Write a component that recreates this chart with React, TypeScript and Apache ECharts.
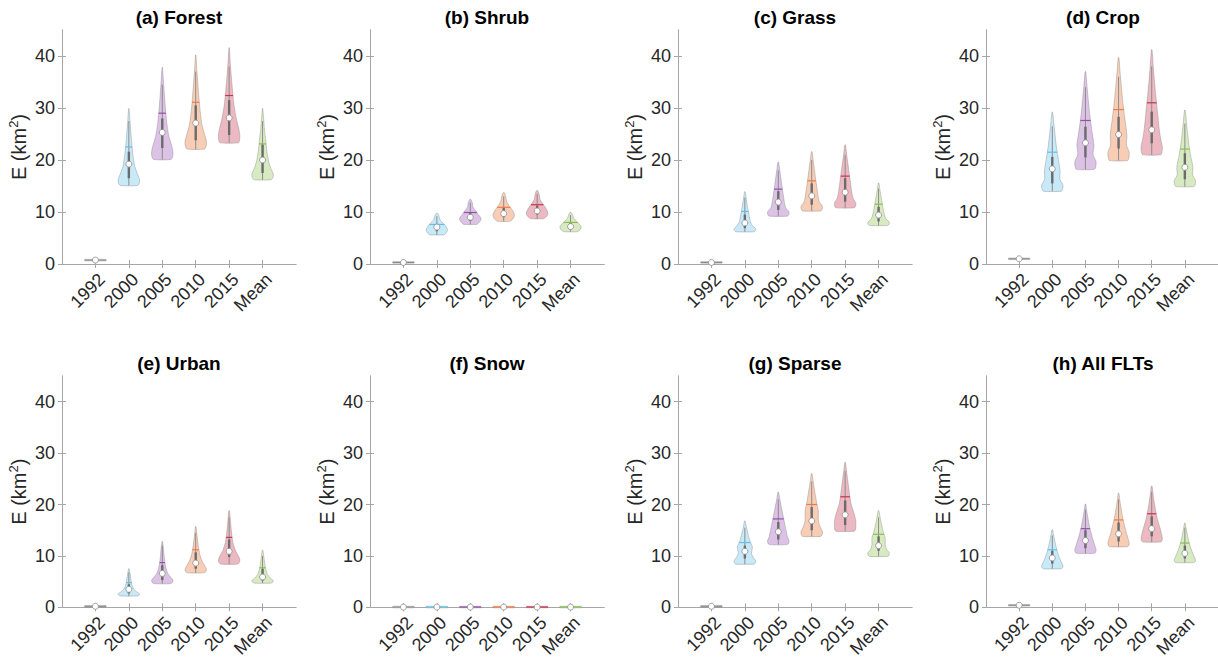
import React, { useEffect, useRef } from "react";
import * as echarts from "echarts";

const categories = ["1992", "2000", "2005", "2010", "2015", "Mean"];
const panelTitles = ["(a) Forest", "(b) Shrub", "(c) Grass", "(d) Crop", "(e) Urban", "(f) Snow", "(g) Sparse", "(h) All FLTs"];
const yTicks = [0, 10, 20, 30, 40];

// relative positions (0 = min, 1 = max) at which the violin half-widths are given
const T = [0, 0.03, 0.08, 0.15, 0.25, 0.4, 0.55, 0.7, 0.85, 1];

// each row: [min, max, q1, q3, median, mean, upperWhisker]
const forestStats = [
  [0.6, 0.9, 0.7, 0.8, 0.75, 0.75, 0.9],
  [15.1, 29.9, 16.5, 21.6, 19.2, 22.5, 27.5],
  [20.1, 37.8, 22.3, 28.0, 25.3, 29.0, 34.5],
  [22.1, 40.2, 23.8, 30.5, 27.1, 31.1, 37.0],
  [23.3, 41.6, 24.8, 31.5, 28.1, 32.4, 38.0],
  [16.2, 29.9, 17.5, 23.0, 20.0, 23.1, 27.5],
];
const shrubStats = [
  [0.15, 0.45, 0.25, 0.35, 0.3, 0.3, 0.45],
  [5.6, 9.7, 6.3, 7.6, 7.1, 7.6, 9.2],
  [7.6, 12.4, 8.3, 9.8, 9.0, 9.9, 11.8],
  [8.2, 13.7, 9.0, 10.8, 9.7, 10.9, 13.0],
  [8.7, 14.1, 9.5, 11.2, 10.2, 11.4, 13.5],
  [6.2, 9.9, 6.8, 7.9, 7.2, 8.0, 9.4],
];
const grassStats = [
  [0.15, 0.45, 0.25, 0.35, 0.3, 0.3, 0.45],
  [6.2, 13.9, 6.9, 9.5, 7.9, 10.1, 12.8],
  [9.2, 19.6, 10.4, 14.0, 11.9, 14.4, 18.0],
  [10.2, 21.6, 11.4, 15.5, 13.1, 16.0, 20.0],
  [10.8, 22.9, 12.0, 16.5, 13.8, 16.9, 21.0],
  [7.4, 15.6, 8.2, 11.0, 9.4, 11.5, 14.5],
];
const cropStats = [
  [0.85, 1.15, 0.95, 1.05, 1.0, 1.0, 1.15],
  [14.0, 29.2, 15.5, 20.6, 18.3, 21.5, 26.5],
  [18.2, 37.0, 20.5, 26.4, 23.3, 27.6, 34.0],
  [19.9, 39.7, 22.2, 28.3, 24.9, 29.7, 36.0],
  [21.0, 41.2, 23.2, 29.3, 25.8, 31.0, 38.0],
  [14.9, 29.6, 16.3, 21.3, 18.6, 22.1, 27.0],
];
const urbanStats = [
  [0.05, 0.35, 0.15, 0.25, 0.2, 0.2, 0.35],
  [2.2, 7.5, 2.7, 4.5, 3.5, 4.8, 6.8],
  [4.6, 12.8, 5.3, 8.2, 6.6, 8.7, 12.0],
  [6.7, 15.7, 7.5, 10.7, 8.6, 11.2, 14.5],
  [8.4, 18.8, 9.8, 13.2, 10.9, 13.6, 17.5],
  [4.7, 11.1, 5.2, 7.5, 5.9, 7.7, 10.0],
];
const snowStats = [
  [-0.1, 0.2, 0.0, 0.1, 0.05, 0.05, 0.2],
  [-0.1, 0.2, 0.0, 0.1, 0.05, 0.05, 0.2],
  [-0.1, 0.2, 0.0, 0.1, 0.05, 0.05, 0.2],
  [-0.1, 0.2, 0.0, 0.1, 0.05, 0.05, 0.2],
  [-0.1, 0.2, 0.0, 0.1, 0.05, 0.05, 0.2],
  [-0.1, 0.2, 0.0, 0.1, 0.05, 0.05, 0.2],
];
const sparseStats = [
  [0.05, 0.35, 0.15, 0.25, 0.2, 0.2, 0.35],
  [8.4, 16.8, 9.5, 12.0, 10.9, 12.6, 15.5],
  [12.2, 22.4, 13.2, 16.6, 14.7, 17.2, 21.0],
  [13.8, 26.0, 15.0, 19.5, 16.8, 20.0, 24.5],
  [14.8, 28.2, 16.0, 20.8, 18.0, 21.5, 26.5],
  [9.9, 18.8, 11.0, 13.8, 12.0, 14.2, 17.5],
];
const allStats = [
  [0.25, 0.55, 0.35, 0.45, 0.4, 0.4, 0.55],
  [7.5, 15.1, 8.5, 11.0, 9.6, 11.2, 14.0],
  [10.5, 20.1, 11.5, 15.0, 13.0, 15.3, 19.0],
  [11.8, 22.2, 12.8, 16.5, 14.3, 17.0, 21.0],
  [12.7, 23.6, 13.8, 17.7, 15.3, 18.2, 22.5],
  [8.7, 16.4, 9.5, 12.0, 10.5, 12.5, 15.5],
];

// normalised half-widths of each violin at the positions in T
const flat = [1, 1, 1, 1, 1, 1, 1, 1, 1, 1];
const forestShapes = [
  flat,
  [0.8, 0.97, 1.0, 0.8, 0.55, 0.38, 0.27, 0.18, 0.1, 0.02],
  [0.8, 0.97, 1.0, 0.88, 0.62, 0.42, 0.3, 0.2, 0.11, 0.02],
  [0.8, 0.97, 1.0, 0.85, 0.6, 0.42, 0.3, 0.2, 0.1, 0.02],
  [0.85, 0.98, 1.0, 0.9, 0.68, 0.45, 0.32, 0.2, 0.1, 0.02],
  [0.8, 0.97, 1.0, 0.8, 0.58, 0.4, 0.3, 0.18, 0.1, 0.02],
];
const shrubShapes = [
  flat,
  [0.65, 0.75, 0.85, 0.95, 1.0, 0.85, 0.6, 0.3, 0.22, 0.08],
  [0.6, 0.7, 0.82, 0.95, 1.0, 0.75, 0.5, 0.25, 0.2, 0.06],
  [0.6, 0.7, 0.85, 0.97, 1.0, 0.8, 0.5, 0.28, 0.2, 0.06],
  [0.6, 0.72, 0.88, 1.0, 0.98, 0.78, 0.48, 0.26, 0.2, 0.06],
  [0.6, 0.72, 0.85, 0.95, 1.0, 0.82, 0.55, 0.3, 0.2, 0.06],
];
const grassShapes = [
  flat,
  [0.85, 0.98, 1.0, 0.72, 0.52, 0.4, 0.3, 0.2, 0.12, 0.03],
  [0.85, 0.98, 1.0, 0.7, 0.58, 0.46, 0.35, 0.25, 0.14, 0.03],
  [0.85, 0.98, 1.0, 0.72, 0.6, 0.48, 0.36, 0.25, 0.14, 0.03],
  [0.85, 0.98, 1.0, 0.75, 0.62, 0.5, 0.38, 0.26, 0.14, 0.03],
  [0.85, 0.98, 1.0, 0.7, 0.55, 0.42, 0.32, 0.22, 0.12, 0.03],
];
const cropShapes = [
  flat,
  [0.85, 0.98, 1.0, 0.72, 0.74, 0.58, 0.4, 0.27, 0.15, 0.03],
  [0.85, 0.98, 1.0, 0.72, 0.8, 0.6, 0.42, 0.28, 0.15, 0.03],
  [0.85, 0.98, 1.0, 0.75, 0.78, 0.6, 0.42, 0.28, 0.15, 0.03],
  [0.85, 0.98, 1.0, 0.85, 0.7, 0.55, 0.4, 0.26, 0.14, 0.03],
  [0.85, 0.98, 1.0, 0.72, 0.76, 0.55, 0.38, 0.25, 0.14, 0.03],
];
const urbanShapes = [
  flat,
  [0.75, 0.95, 1.0, 0.75, 0.45, 0.3, 0.22, 0.16, 0.1, 0.03],
  [0.75, 0.95, 1.0, 0.8, 0.5, 0.32, 0.22, 0.16, 0.1, 0.03],
  [0.75, 0.95, 1.0, 0.85, 0.6, 0.38, 0.26, 0.18, 0.1, 0.03],
  [0.75, 0.95, 1.0, 0.88, 0.6, 0.36, 0.25, 0.17, 0.1, 0.03],
  [0.75, 0.95, 1.0, 0.75, 0.48, 0.32, 0.22, 0.16, 0.1, 0.03],
];
const snowShapes = [flat, flat, flat, flat, flat, flat];
const sparseShapes = [
  flat,
  [0.85, 0.98, 1.0, 0.8, 0.62, 0.7, 0.45, 0.3, 0.15, 0.03],
  [0.85, 0.98, 1.0, 0.85, 0.75, 0.6, 0.45, 0.3, 0.16, 0.03],
  [0.85, 0.98, 1.0, 0.8, 0.62, 0.62, 0.45, 0.3, 0.16, 0.03],
  [0.85, 0.98, 1.0, 1.0, 0.85, 0.55, 0.4, 0.28, 0.15, 0.03],
  [0.85, 0.98, 1.0, 0.75, 0.62, 0.62, 0.42, 0.28, 0.15, 0.03],
];
const allShapes = [
  flat,
  [0.85, 0.98, 1.0, 0.88, 0.72, 0.52, 0.37, 0.24, 0.13, 0.03],
  [0.85, 0.98, 1.0, 0.9, 0.75, 0.55, 0.38, 0.25, 0.13, 0.03],
  [0.85, 0.98, 1.0, 0.9, 0.75, 0.55, 0.38, 0.25, 0.13, 0.03],
  [0.85, 0.98, 1.0, 0.92, 0.78, 0.55, 0.38, 0.25, 0.13, 0.03],
  [0.85, 0.98, 1.0, 0.88, 0.72, 0.52, 0.36, 0.24, 0.13, 0.03],
];

const panelStats = [forestStats, shrubStats, grassStats, cropStats, urbanStats, snowStats, sparseStats, allStats];
const panelShapes = [forestShapes, shrubShapes, grassShapes, cropShapes, urbanShapes, snowShapes, sparseShapes, allShapes];

const fillColors = ["#f4f4f4", "#c8e9f8", "#dcc2e5", "#f7cdb6", "#ecb9c2", "#d8eac2"];
const meanColors = ["#8a8a8a", "#5fc0ec", "#934fab", "#f07a42", "#c8324c", "#86c04e"];

const FONT = '"Liberation Sans", Arial, sans-serif';
const HALF = 0.32;
const gridLefts = [62, 370, 678, 986];
const gridTops = [30, 376];
const GW = 234;
const GH = 234;

function widthAt(shape: number[], t: number) {
  for (let k = 0; k < T.length - 1; k++) {
    if (t >= T[k] && t <= T[k + 1]) {
      const f = (t - T[k]) / (T[k + 1] - T[k]);
      return shape[k] + f * (shape[k + 1] - shape[k]);
    }
  }
  return 0;
}

export default function App() {
  const ref = useRef<HTMLDivElement>(null);
  useEffect(() => {
    if (!ref.current) return;
    const chart = echarts.init(ref.current, null, { renderer: "svg" });
    const grids: any[] = [];
    const xAxes: any[] = [];
    const yAxes: any[] = [];
    const series: any[] = [];
    const graphics: any[] = [];
    const ticks = [1, 2, 3, 4, 5, 6];
    const axisColor = "#a6a6a6";
    for (let p = 0; p < 8; p++) {
      const left = gridLefts[p % 4];
      const top = gridTops[Math.floor(p / 4)];
      grids.push({ left, top, width: GW, height: GH, show: false });
      xAxes.push({
        type: "value", gridIndex: p, min: 0, max: 7, position: "bottom",
        axisLine: { show: true, lineStyle: { color: axisColor } },
        axisTick: { show: true, inside: true, length: 4, customValues: ticks, lineStyle: { color: axisColor } },
        axisLabel: {
          customValues: ticks, rotate: 45, margin: 6, fontSize: 18, color: "#262626", fontFamily: FONT,
          verticalAlign: "top",
          formatter: (v: number) => categories[Math.round(v) - 1] ?? "",
        },
        splitLine: { show: false },
      });
      yAxes.push({
        type: "value", gridIndex: p, min: 0, max: 45, interval: 10, position: "left",
        axisLine: { show: true, lineStyle: { color: axisColor } },
        axisTick: { show: true, inside: true, length: 4, customValues: yTicks, lineStyle: { color: axisColor } },
        axisLabel: { customValues: yTicks, fontSize: 18, color: "#262626", fontFamily: FONT, margin: 7 },
        splitLine: { show: false },
        name: "E (km{sup|2})", nameLocation: "middle", nameGap: 23, nameRotate: 90,
        nameTextStyle: {
          fontSize: 20, color: "#262626", fontFamily: FONT, lineHeight: 24,
          rich: { sup: { fontSize: 13, fontFamily: FONT, color: "#262626", verticalAlign: "top", lineHeight: 24, padding: [0, 0, 9, 0] } },
        },
      });
    }
    for (let p = 0; p < 8; p++) {
      xAxes.push({
        type: "value", gridIndex: p, min: 0, max: 7, position: "top",
        axisLine: { show: true, lineStyle: { color: axisColor } },
        axisTick: { show: true, inside: true, length: 4, customValues: ticks, lineStyle: { color: axisColor } },
        axisLabel: { show: false }, splitLine: { show: false },
      });
      yAxes.push({
        type: "value", gridIndex: p, min: 0, max: 45, interval: 10, position: "right",
        axisLine: { show: true, lineStyle: { color: axisColor } },
        axisTick: { show: true, inside: true, length: 4, customValues: yTicks, lineStyle: { color: axisColor } },
        axisLabel: { show: false }, splitLine: { show: false },
      });
    }
    for (let p = 0; p < 8; p++) {
      const stats = panelStats[p];
      const shapes = panelShapes[p];
      series.push({
        type: "custom",
        xAxisIndex: p,
        yAxisIndex: p,
        data: stats.map((s, i) => [i + 1, s[5]]),
        encode: { x: 0, y: 1 },
        renderItem: (params: any, api: any) => {
          const i = params.dataIndex;
          const [mn, mx, q1, q3, med, mean, wHi] = stats[i];
          const shape = shapes[i];
          const x = i + 1;
          const right: number[][] = [];
          const leftPts: number[][] = [];
          for (let k = 0; k < T.length; k++) {
            const y = mn + T[k] * (mx - mn);
            const w = shape[k] * HALF;
            right.push(api.coord([x + w, y]));
            leftPts.push(api.coord([x - w, y]));
          }
          const pts = right.concat(leftPts.reverse());
          const tm = (mean - mn) / (mx - mn);
          const wm = widthAt(shape, Math.max(0, Math.min(1, tm))) * HALF;
          const pm1 = api.coord([x - wm, mean]);
          const pm2 = api.coord([x + wm, mean]);
          const pLo = api.coord([x, mn]);
          const pHi = api.coord([x, wHi]);
          const pq1 = api.coord([x, q1]);
          const pq3 = api.coord([x, q3]);
          const pmed = api.coord([x, med]);
          const children: any[] = [
            {
              type: "polygon",
              shape: { points: pts, smooth: 0.25 },
              style: { fill: fillColors[i], stroke: "rgba(120,120,120,0.45)", lineWidth: 0.8 },
            },
            {
              type: "line",
              shape: { x1: pLo[0], y1: pLo[1], x2: pHi[0], y2: pHi[1] },
              style: { stroke: "#8c8c8c", lineWidth: 1 },
            },
            {
              type: "line",
              shape: { x1: pq1[0], y1: pq1[1], x2: pq3[0], y2: pq3[1] },
              style: { stroke: "#6b6b6b", lineWidth: 2.4 },
            },
            {
              type: "line",
              shape: { x1: pm1[0], y1: pm1[1], x2: pm2[0], y2: pm2[1] },
              style: { stroke: meanColors[i], lineWidth: 1.2 },
            },
            {
              type: "circle",
              shape: { cx: pmed[0], cy: pmed[1], r: 3 },
              style: { fill: "#ffffff", stroke: "#8c8c8c", lineWidth: 0.8 },
            },
          ];
          return { type: "group", children };
        },
      });
      const left = gridLefts[p % 4];
      const top = gridTops[Math.floor(p / 4)];
      graphics.push({
        type: "text",
        x: left + GW / 2,
        y: top - 13,
        style: {
          text: panelTitles[p], fontSize: 19, fontWeight: "bold", fontFamily: FONT,
          fill: "#000000", align: "center", verticalAlign: "middle",
        },
      });
    }
    chart.setOption({
      animation: false,
      backgroundColor: "#ffffff",
      grid: grids,
      xAxis: xAxes,
      yAxis: yAxes,
      series,
      graphic: graphics,
    });
    return () => chart.dispose();
  }, []);
  return <div ref={ref} style={{ position: "absolute", left: 0, top: 0, width: 1218, height: 660 }} />;
}
